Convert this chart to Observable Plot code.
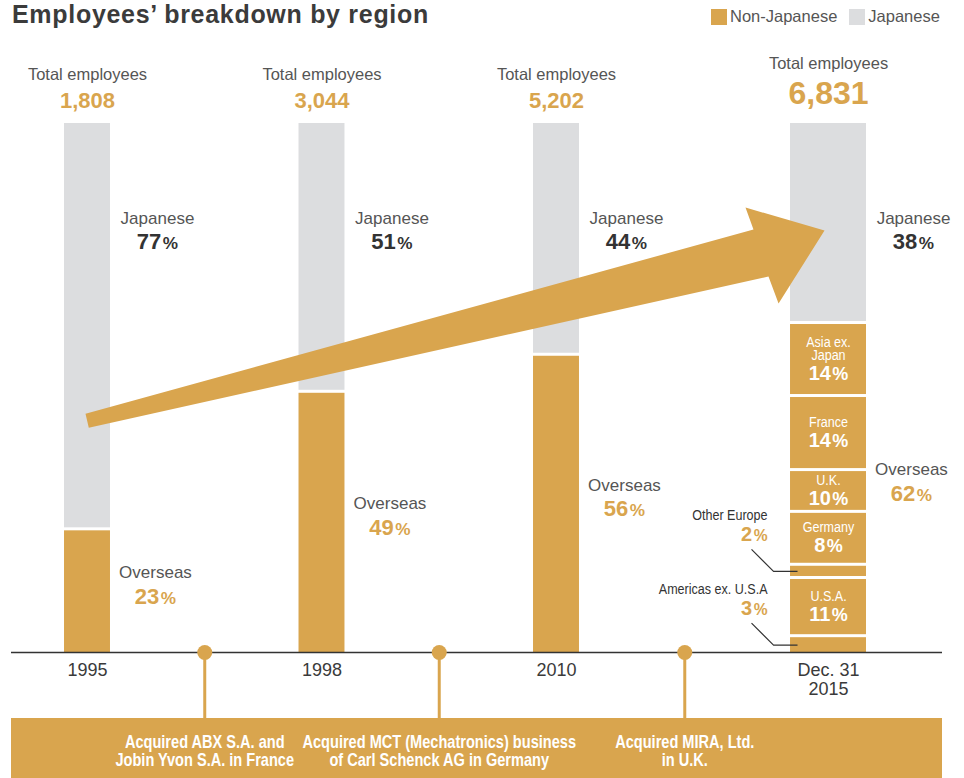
<!DOCTYPE html>
<html>
<head>
<meta charset="utf-8">
<script src="https://cdn.jsdelivr.net/npm/d3@7"></script>
<script src="https://cdn.jsdelivr.net/npm/@observablehq/plot@0.6"></script>
<style>
  html, body { margin: 0; padding: 0; background: #fff; }
  body { font-family: "Liberation Sans", Arial, Helvetica, sans-serif; }
  #wrap { position: relative; width: 964px; height: 778px; overflow: hidden; }
  #head { position: relative; height: 40px; }
  #title { position: absolute; left: 12px; top: 0; margin: 0; font-size: 25px; line-height: 28px; font-weight: bold; color: #3b3b3b; letter-spacing: 0.7px; white-space: nowrap; }
  #legend { position: absolute; left: 711px; top: 0px; }
  #legend > div { margin: 0 !important; }
  #legend span { margin-right: 12px !important; }
  #legend svg { margin-right: 3px !important; }
  #chart svg { display: block; }
</style>
</head>
<body>
<div id="wrap">
  <div id="head">
    <h1 id="title">Employees’ breakdown by region</h1>
    <div id="legend"></div>
  </div>
  <div id="chart"></div>
</div>
<script>
// ---------------- data ----------------
const seriesNames = ["Non-Japanese", "Japanese"];
const years = ["1995", "1998", "2010", "Dec. 31\n2015"];
const totalEmployees = ["1,808", "3,044", "5,202", "6,831"];
const overseasShare = [23, 49, 56, 62];
const japaneseShare = [77, 51, 44, 38];
// Dec. 31 2015 breakdown of overseas employees (bottom to top)
const regions = ["Americas ex. U.S.A", "U.S.A.", "Other Europe", "Germany", "U.K.", "France", "Asia ex.\nJapan"];
const regionShareDrawn = [2.8, 11, 2.5, 10, 7.9, 14, 13.8];   // bar heights as drawn
const regionShareLabel = [3, 11, 2, 8, 10, 14, 14];            // printed percentages
const acquisitions = [
  "Acquired ABX S.A. and\nJobin Yvon S.A. in France",
  "Acquired MCT (Mechatronics) business\nof Carl Schenck AG in Germany",
  "Acquired MIRA, Ltd.\nin U.K."
];

// ---------------- layout ----------------
const GOLD = "#D9A54E", GRAY = "#DCDDDF", INK = "#333333", MID = "#555555";
const REG = '"Liberation Sans", Arial, Helvetica, sans-serif';
const NARROW = 'Liberation Sans, Arial, sans-serif';   // rendered horizontally condensed
const CONDENSE = 0.81;
const W = 964, H = 738, MT = 83, MB = 126, ML = 11, MR = 22;
const xDomain = [-0.3241, 3.6461];                  // timeline slots
const barSlot = [0, 1, 2, 3.16];
const barHalf = [0.098, 0.098, 0.098, 0.162];
const acqSlot = [0.5, 1.5, 2.547];
const PXX = (W - ML - MR) / (xDomain[1] - xDomain[0]);   // px per slot
const PXY = (H - MT - MB) / 100;                          // px per percent
const bandTop = -66 / PXY, bandBottom = -MB / PXY;
const arrowOutline = [[-0.0085, 45.12], [0.0055, 42.48], [2.904, 71.08], [2.947, 65.97],
                      [3.143, 79.77], [2.806, 84.12], [2.840, 79.96]];

// ---------------- derived tables ----------------
const bars = years.map((year, i) => ({
  i, year, total: totalEmployees[i], slot: barSlot[i],
  x1: barSlot[i] - barHalf[i], x2: barSlot[i] + barHalf[i],
  overseas: overseasShare[i], japanese: japaneseShare[i]
}));
const segs = [];
bars.forEach(b => {
  if (b.i < 3) segs.push({x1: b.x1, x2: b.x2, y1: 0, y2: b.overseas, key: seriesNames[0]});
  segs.push({x1: b.x1, x2: b.x2, y1: 100 - b.japanese, y2: 100, key: seriesNames[1]});
});
const last = bars[3];
let cum = 0;
const regionRows = regions.map((name, k) => {
  const y1 = cum, y2 = cum + regionShareDrawn[k];
  cum = y2;
  const visLow = y1 > 0 ? y1 + 3 / PXY : y1;
  const inside = regionShareLabel[k] >= 8;
  return {name, pct: regionShareLabel[k] + "%", y1, y2, vmid: (visLow + y2) / 2,
          inside, lines: name.split("\n").length, x1: last.x1, x2: last.x2, slot: last.slot};
});
regionRows.forEach(r => segs.push({x1: r.x1, x2: r.x2, y1: r.y1, y2: r.y2, key: seriesNames[0]}));
const outside = regionRows.filter(r => !r.inside);
const leaders = outside.flatMap(r => [
  {name: r.name, x: last.x1 - 39 / PXX, y: r.vmid + 22 / PXY},
  {name: r.name, x: last.x1 - 17 / PXX, y: r.vmid},
  {name: r.name, x: last.x1 + 7 / PXX, y: r.vmid}
]);
const acq = acquisitions.map((text, i) => ({text, slot: acqSlot[i]}));
const arrow = arrowOutline.map(([x, y]) => ({x, y}));

const color = {domain: seriesNames, range: [GOLD, GRAY]};

// ---------------- legend ----------------
document.getElementById("legend").appendChild(Plot.legend({
  color: {...color, type: "categorical"},
  swatchSize: 16,
  style: {fontSize: "16.5px", fontFamily: REG, color: MID}
}));

// ---------------- chart ----------------
const first3 = d => d.i < 3, lastBar = d => d.i === 3;
const chart = Plot.plot({
  width: W, height: H,
  marginTop: MT, marginBottom: MB, marginLeft: ML, marginRight: MR,
  x: {domain: xDomain, axis: null},
  y: {domain: [0, 100], axis: null},
  color,
  style: {fontFamily: REG, background: "#fff", overflow: "visible"},
  marks: [
    // bars
    Plot.rect(segs, {filter: d => d.y1 === 0, x1: "x1", x2: "x2", y1: "y1", y2: "y2", fill: "key"}),
    Plot.rect(segs, {filter: d => d.y1 > 0, x1: "x1", x2: "x2", y1: "y1", y2: "y2", fill: "key", insetBottom: 3}),
    // growth arrow
    Plot.line(arrow, {x: "x", y: "y", fill: GOLD, stroke: "none"}),
    // bottom band
    Plot.rect([0], {x1: xDomain[0], x2: xDomain[1], y1: bandBottom, y2: bandTop, fill: GOLD}),
    // baseline
    Plot.ruleY([0], {stroke: INK, strokeWidth: 1.3}),
    // acquisitions timeline
    Plot.ruleX(acq, {x: "slot", y1: 0, y2: bandTop, stroke: GOLD, strokeWidth: 3}),
    Plot.dot(acq, {x: "slot", y: 0, r: 7.5, fill: GOLD, stroke: "none"}),
    Plot.text(acq, {x: "slot", y: 0, text: "text", lineAnchor: "top", dy: 83, fill: "#fff",
      fontFamily: NARROW, fontWeight: "bold", fontSize: 18, lineHeight: 1.0}),
    // years
    Plot.text(bars, {x: "slot", y: 0, text: "year", lineAnchor: "top", dy: 10.7, fontSize: 18, lineHeight: 1.02, fill: "#3a3a3a"}),
    // totals
    Plot.text(bars, {filter: first3, x: "slot", y: 100, text: () => "Total employees", dy: -48.8, fontSize: 16.5, fill: MID}),
    Plot.text(bars, {filter: lastBar, x: "slot", y: 100, text: () => "Total employees", dy: -59.8, fontSize: 16.5, fill: MID}),
    Plot.text(bars, {filter: first3, x: "slot", y: 100, text: "total", dy: -22.7, fontSize: 22, fontWeight: "bold", fill: GOLD}),
    Plot.text(bars, {filter: lastBar, x: "slot", y: 100, text: "total", dy: -29.9, fontSize: 32, fontWeight: "bold", fill: GOLD}),
    // Japanese labels
    Plot.text(bars, {x: "x2", y: 100, text: () => "Japanese", dx: 47, dy: 94.6, fontSize: 17, fill: MID}),
    Plot.text(bars, {x: "x2", y: 100, text: d => d.japanese + "%", dx: 47, dy: 118, fontSize: 22, fontWeight: "bold", fill: INK}),
    // Overseas labels
    Plot.text(bars, {x: "x2", y: d => d.overseas / 2, text: () => "Overseas", dx: 45, dy: -19, fontSize: 17, fill: MID}),
    Plot.text(bars, {x: "x2", y: d => d.overseas / 2, text: d => d.overseas + "%", dx: 45, dy: 5, fontSize: 22, fontWeight: "bold", fill: GOLD}),
    // region labels inside the last bar
    Plot.text(regionRows, {filter: d => d.inside, x: "slot", y: "vmid", text: "name", dy: -10, fontFamily: NARROW, fontSize: 15.5, lineHeight: 0.82, fill: "#fff"}),
    Plot.text(regionRows, {filter: d => d.inside && d.lines === 1, x: "slot", y: "vmid", text: "pct", dy: 7.5, fontSize: 20, fontWeight: "bold", fill: "#fff"}),
    Plot.text(regionRows, {filter: d => d.inside && d.lines > 1, x: "slot", y: "vmid", text: "pct", dy: 14.5, fontSize: 20, fontWeight: "bold", fill: "#fff"}),
    // region labels outside with leaders
    Plot.line(leaders, {x: "x", y: "y", z: "name", stroke: INK, strokeWidth: 1.2, strokeLinecap: "butt"}),
    Plot.text(outside, {x: "x1", y: "vmid", text: "name", textAnchor: "end", dx: -23, dy: -56, fontFamily: NARROW, fontSize: 15.5, fill: INK}),
    Plot.text(outside, {x: "x1", y: "vmid", text: "pct", textAnchor: "end", dx: -23, dy: -37, fontSize: 20, fontWeight: "bold", fill: GOLD})
  ]
});

// condensed type: squeeze the Liberation Sans glyphs horizontally around their anchor
chart.querySelectorAll("g").forEach(g => {
  if (g.getAttribute("font-family") !== NARROW) return;
  g.querySelectorAll(":scope > text").forEach(t => {
    let tr = t.getAttribute("transform");
    if (!tr) {
      const x = +(t.getAttribute("x") || 0), y = +(t.getAttribute("y") || 0);
      t.removeAttribute("x"); t.removeAttribute("y");
      tr = `translate(${x},${y})`;
    }
    t.setAttribute("transform", `${tr} scale(${CONDENSE},1)`);
  });
});

// smaller percent signs
chart.querySelectorAll("text").forEach(t => {
  const s = t.textContent;
  if (t.children.length === 0 && /^\d+%$/.test(s)) {
    const g = t.closest("g");
    const white = g && g.getAttribute("fill") === "#fff";
    t.textContent = s.slice(0, -1);
    const ts = document.createElementNS("http://www.w3.org/2000/svg", "tspan");
    ts.setAttribute("font-size", white ? "0.9em" : "0.78em");
    ts.setAttribute("dx", "1.5");
    ts.textContent = "%";
    t.appendChild(ts);
  }
});

document.getElementById("chart").appendChild(chart);
</script>
</body>
</html>
